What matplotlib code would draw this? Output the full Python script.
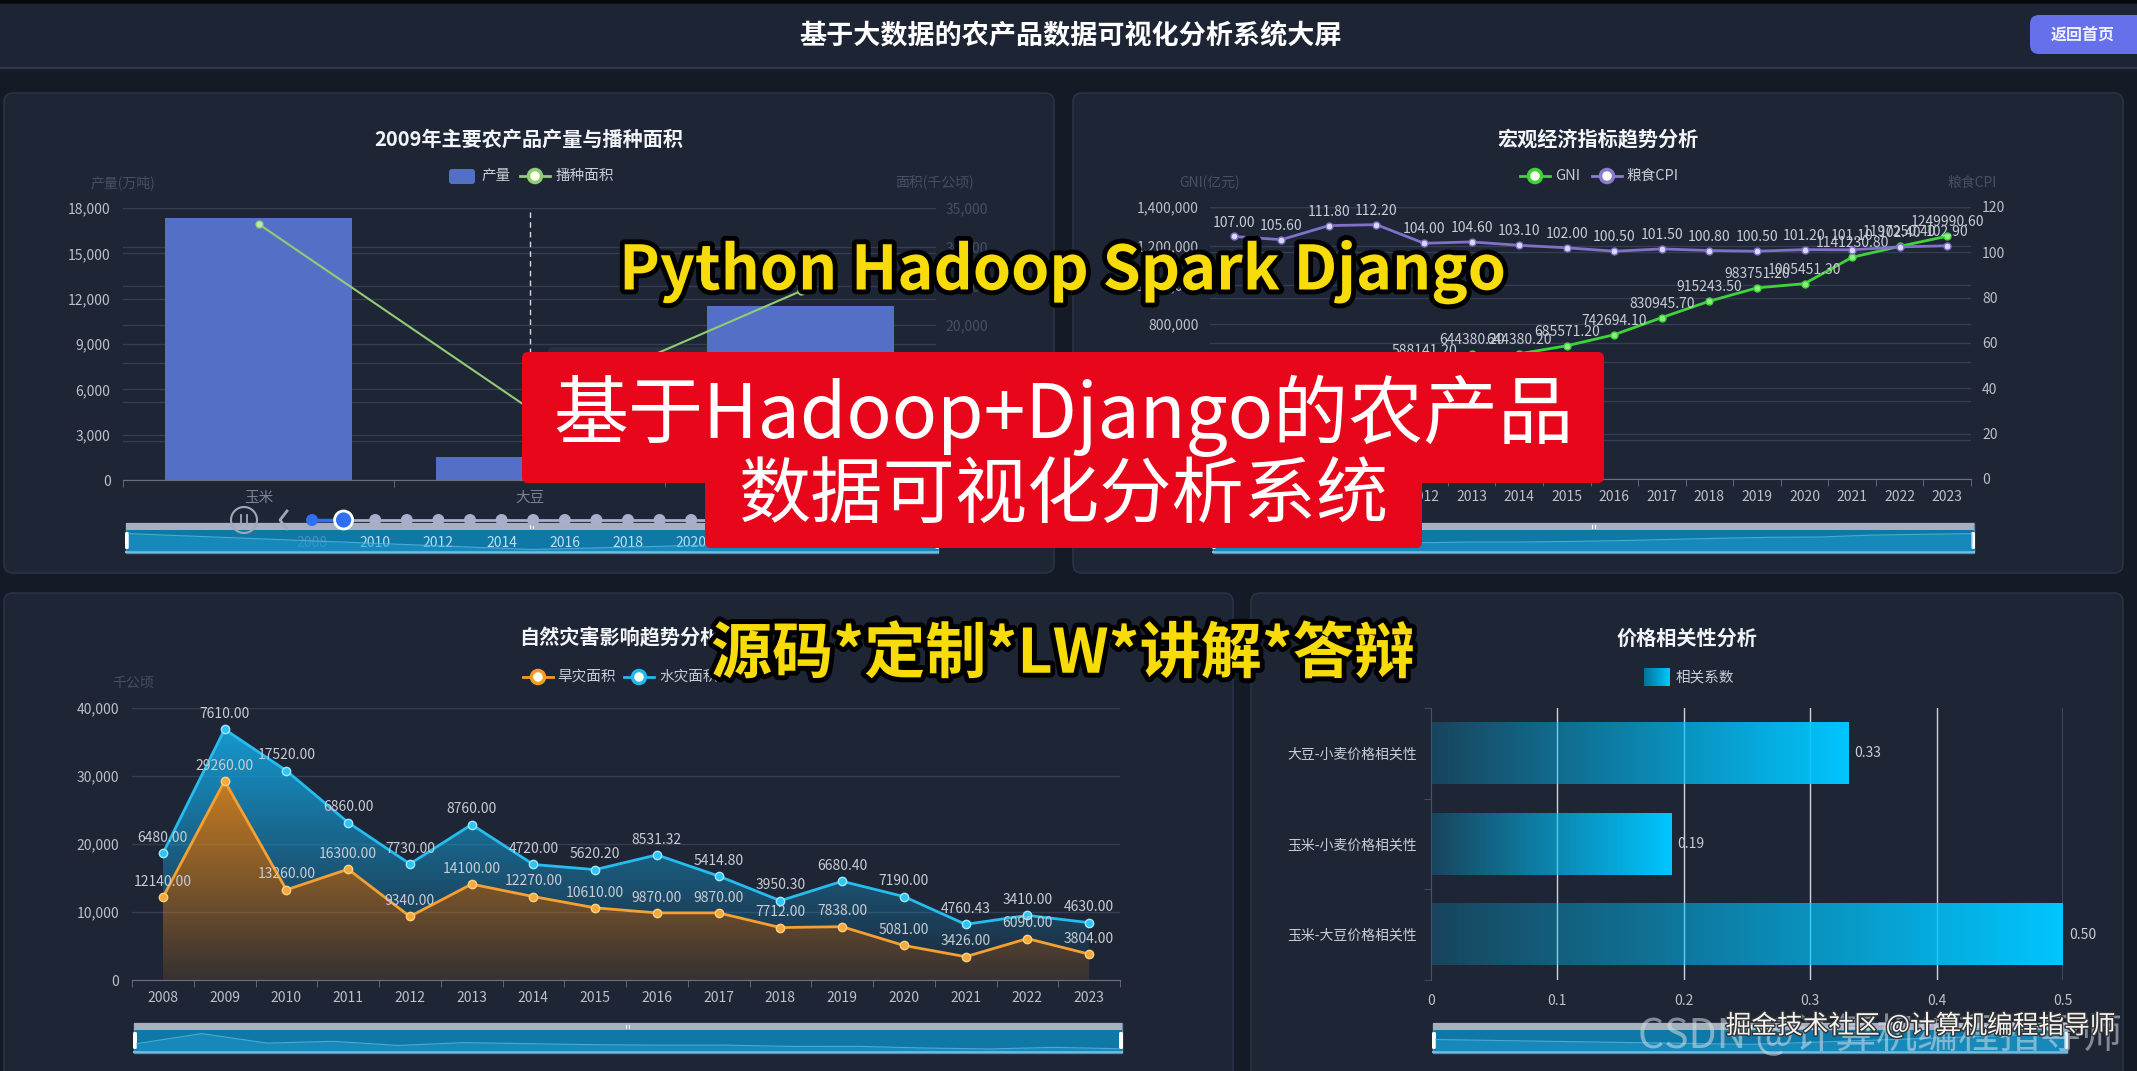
import numpy as np
import matplotlib
matplotlib.use('Agg')
import matplotlib.pyplot as plt
from matplotlib.patches import FancyBboxPatch, Rectangle, Circle, Polygon
import matplotlib.patheffects as pe
from matplotlib.ticker import FuncFormatter

plt.rcParams['font.family'] = ['Noto Sans CJK SC', 'DejaVu Sans']

W, H = 2137, 1071

# ---------------- data ----------------
crop_names = ['玉米', '大豆', '小麦']
crop_output = [17326, 1498, 11512]          # 产量(万吨)
crop_area = [32950, 9190, 24291]            # 播种面积(千公顷)
timeline_years = list(range(2008, 2024))
timeline_labels = ['2008', '2010', '2012', '2014', '2016', '2018', '2020', '2022']

macro_years = [str(y) for y in range(2008, 2024)]
gni = [347934.90, 410354.10, 483392.80, 537329.00, 588141.20, 644380.20, 644380.20,
       685571.20, 742694.10, 830945.70, 915243.50, 983751.20, 1005451.30,
       1141230.80, 1197250.40, 1249990.60]
grain_cpi = [107.00, 105.60, 111.80, 112.20, 104.00, 104.60, 103.10, 102.00, 100.50,
             101.50, 100.80, 100.50, 101.20, 101.10, 102.40, 102.90]

disaster_years = [str(y) for y in range(2008, 2024)]
drought_area = [12140, 29260, 13260, 16300, 9340, 14100, 12270, 10610, 9870, 9870,
                7712, 7838, 5081, 3426, 6090, 3804]
flood_area = [6480, 7610, 17520, 6860, 7730, 8760, 4720, 5620.20, 8531.32, 5414.80,
              3950.30, 6680.40, 7190, 4760.43, 3410, 4630]

corr_names = ['玉米-大豆价格相关性', '玉米-小麦价格相关性', '大豆-小麦价格相关性']
corr_values = [0.50, 0.19, 0.33]

# ---------------- style ----------------
PAGE = '#141a26'
PANEL = '#1e2535'
GRID = '#343e51'
TICK = '#bcc0c9'
DIM = '#465064'
LABEL = '#c8ccd4'

fig = plt.figure(figsize=(W / 100, H / 100), dpi=100)
fig.patch.set_facecolor(PAGE)


def px_axes(x0, y0, x1, y1, **kw):
    return fig.add_axes([x0 / W, 1 - y1 / H, (x1 - x0) / W, (y1 - y0) / H], **kw)


def clean(ax):
    ax.set_facecolor('none')
    for s in ax.spines.values():
        s.set_visible(False)


bg = fig.add_axes([0, 0, 1, 1])
bg.set_xlim(0, W)
bg.set_ylim(H, 0)
bg.axis('off')

# header
bg.add_patch(Rectangle((0, 0), W, 4, color='#07090d', zorder=1))
bg.add_patch(Rectangle((0, 4), W, 64, color='#1d2434', zorder=1))
bg.plot([0, W], [68, 68], color='#323d51', lw=1.2, zorder=2)
bg.text(1071, 36, '基于大数据的农产品数据可视化分析系统大屏', ha='center', va='center',
        color='white', fontsize=19.5, fontweight='bold', zorder=3)
bg.add_patch(FancyBboxPatch((2030, 15), 130, 39, boxstyle='round,pad=0,rounding_size=9',
                            fc='#6570ea', ec='none', zorder=3))
bg.text(2083, 35, '返回首页', ha='center', va='center', color='#eef0ff', fontsize=11.5,
        fontweight='bold', zorder=4)

# panels
panels = [(4, 93, 1054, 573), (1073, 93, 2123, 573), (4, 593, 1233, 1085), (1251, 593, 2123, 1085)]
for (x0, y0, x1, y1) in panels:
    bg.add_patch(FancyBboxPatch((x0, y0), x1 - x0, y1 - y0,
                                boxstyle='round,pad=0,rounding_size=9',
                                fc=PANEL, ec='#293246', lw=1.2, zorder=2))

# titles
titles = [(529, 139, '2009年主要农产品产量与播种面积'), (1598, 139, '宏观经济指标趋势分析'),
          (620, 638, '自然灾害影响趋势分析'), (1687, 638, '价格相关性分析')]
for (x, y, s) in titles:
    bg.text(x, y, s, ha='center', va='center', color='#f2f4f8', fontsize=14.5,
            fontweight='bold', zorder=5)


def legend_line(x, y, color):
    bg.plot([x - 15, x + 15], [y, y], color=color, lw=2, zorder=5)
    bg.add_patch(Circle((x, y), 6.5, fc='#fbfff0', ec=color, lw=2.5, zorder=6))


# legends
bg.add_patch(FancyBboxPatch((449, 169), 26, 15, boxstyle='round,pad=0,rounding_size=3',
                            fc='#5470c6', ec='none', zorder=5))
bg.text(481, 176, '产量', ha='left', va='center', color=LABEL, fontsize=10.5, zorder=5)
legend_line(535, 176, '#91cc75')
bg.text(556, 176, '播种面积', ha='left', va='center', color=LABEL, fontsize=10.5, zorder=5)

legend_line(1535, 176, '#3fd33a')
bg.text(1555, 176, 'GNI', ha='left', va='center', color=LABEL, fontsize=10.5, zorder=5)
legend_line(1607, 176, '#8a7bd0')
bg.text(1626, 176, '粮食CPI', ha='left', va='center', color=LABEL, fontsize=10.5, zorder=5)

legend_line(538, 677, '#f59a23')
bg.text(557, 677, '旱灾面积', ha='left', va='center', color=LABEL, fontsize=10.5, zorder=5)
legend_line(639, 677, '#22b8ec')
bg.text(659, 677, '水灾面积', ha='left', va='center', color=LABEL, fontsize=10.5, zorder=5)

# legend gradient box for correlation
lg = np.zeros((1, 64, 4))
lg[0, :, 0] = 0.0
lg[0, :, 1] = np.linspace(0.45, 0.78, 64)
lg[0, :, 2] = np.linspace(0.6, 1.0, 64)
lg[0, :, 3] = 1
bg.imshow(lg, extent=[1644, 1670, 686, 668], aspect='auto', zorder=5, interpolation='bilinear')
bg.text(1676, 677, '相关系数', ha='left', va='center', color=LABEL, fontsize=10.5, zorder=5)

# axis names
for (x, y, s) in [(123, 183, '产量(万吨)'), (934, 183, '面积(千公顷)'), (1210, 183, 'GNI(亿元)'),
                  (1972, 183, '粮食CPI'), (133, 683, '千公顷')]:
    bg.text(x, y, s, ha='center', va='center', color=DIM, fontsize=10, zorder=5)


# sliders (dataZoom)
def slider(x0, x1, y0, left=True, right=True):
    bg.add_patch(Rectangle((x0, y0), x1 - x0, 30, fc='#0f78a6', ec='#5a88a8', lw=1, zorder=4))
    bg.add_patch(Rectangle((x0, y0), x1 - x0, 7, fc='#a7afc0', ec='none', zorder=5))
    bg.plot([x0, x1], [y0 + 29, y0 + 29], color='#6fc0e4', lw=1.5, zorder=5)
    xm = (x0 + x1) / 2
    bg.plot([xm - 2, xm - 2], [y0 + 2, y0 + 5], color='white', lw=0.8, zorder=6)
    bg.plot([xm + 1, xm + 1], [y0 + 2, y0 + 5], color='white', lw=0.8, zorder=6)
    if left:
        bg.add_patch(FancyBboxPatch((x0 - 1, y0 + 9), 4, 17, boxstyle='round,pad=0,rounding_size=1.5',
                                    fc='white', ec='none', zorder=6))
    if right:
        bg.add_patch(FancyBboxPatch((x1 - 3, y0 + 9), 4, 17, boxstyle='round,pad=0,rounding_size=1.5',
                                    fc='white', ec='none', zorder=6))


slider(126, 938, 523)
slider(1213, 1974, 523)
slider(134, 1122, 1023)
slider(1433, 2067, 1023)

# timeline
tl_x0, tl_dx, tl_y = 312, 31.6, 520
tl_xs = [tl_x0 + tl_dx * i for i in range(len(timeline_years))]
bg.plot([tl_xs[0], tl_xs[-1]], [tl_y, tl_y], color='#a8afca', lw=2, zorder=7)
bg.plot([tl_xs[0], tl_xs[1]], [tl_y, tl_y], color='#2f6ff0', lw=2.5, zorder=8)
for i, xx in enumerate(tl_xs):
    if i == 0:
        bg.add_patch(Circle((xx, tl_y), 6, fc='#2f6ff0', ec='none', zorder=9))
    elif i == 1:
        bg.add_patch(Circle((xx, tl_y), 9, fc='#2f6ff0', ec='white', lw=2, zorder=9))
    else:
        bg.add_patch(Circle((xx, tl_y), 6, fc='#a8afca', ec='none', zorder=9))
for lab in timeline_labels:
    i = timeline_years.index(int(lab))
    bg.text(tl_xs[i], 543, lab, ha='center', va='center', fontsize=10,
            color='#4d90b8' if i == 0 else '#b8e2f5', zorder=9)
bg.add_patch(Circle((244, 520), 13, fc='none', ec='#a0a7ba', lw=1.5, zorder=9))
bg.plot([241, 241], [515, 525], color='#a0a7ba', lw=1.3, zorder=9)
bg.plot([247, 247], [515, 525], color='#a0a7ba', lw=1.3, zorder=9)
bg.plot([287, 280, 287], [511, 520, 529], color='#a0a7ba', lw=2, zorder=9)

# tooltip remnant (mostly hidden)
bg.add_patch(FancyBboxPatch((548, 347), 180, 130, boxstyle='round,pad=0,rounding_size=5',
                            fc='#2a3040', ec='none', zorder=3))

# ================= chart 1: production & area =================
ax1 = px_axes(123, 208, 936, 480)
clean(ax1)
xc = np.arange(len(crop_names))
ax1.set_xlim(-0.5, len(crop_names) - 0.5)
ax1.set_ylim(0, 18000)
for v in np.arange(0, 18001, 3000):
    ax1.axhline(v, color=GRID, lw=1, zorder=0)
for v in np.arange(0, 35001, 5000):
    ax1.axhline(v * 18000 / 35000, color=GRID, lw=1, zorder=0)
ax1.bar(xc, crop_output, width=0.69, color='#5470c6', zorder=3)
ax1.axvline(1, color='#d5d9e0', lw=1, ls=(0, (4, 3)), zorder=5)
ax1.set_yticks(np.arange(0, 18001, 3000))
ax1.yaxis.set_major_formatter(FuncFormatter(lambda v, p: f'{int(v):,}'))
ax1.tick_params(axis='y', length=0, colors=TICK, labelsize=10, pad=9)
ax1.set_xticks(xc)
ax1.set_xticklabels(crop_names)
ax1.tick_params(axis='x', which='major', length=0, colors='#7a8294', labelsize=10.5, pad=8)
ax1.set_xticks(np.arange(-0.5, len(crop_names)), minor=True)
ax1.tick_params(axis='x', which='minor', length=5, color='#6e7079')
ax1.spines['bottom'].set_visible(True)
ax1.spines['bottom'].set_color('#6e7079')
ax1r = ax1.twinx()
clean(ax1r)
ax1r.set_ylim(0, 35000)
ax1r.plot(xc, crop_area, color='#91cc75', lw=1.5, marker='o', ms=5, mfc='#c5e8b0',
          mec='#91cc75', zorder=4)
ax1r.set_yticks(np.arange(0, 35001, 5000))
ax1r.yaxis.set_major_formatter(FuncFormatter(lambda v, p: f'{int(v):,}'))
ax1r.tick_params(axis='y', length=0, colors=DIM, labelsize=10, pad=7)

# ================= chart 2: GNI & CPI =================
ax2 = px_axes(1210, 207, 1971, 479)
clean(ax2)
xm = np.arange(len(macro_years))
ax2.set_xlim(-0.5, len(macro_years) - 0.5)
ax2.set_ylim(0, 1400000)
for v in np.arange(0, 1400001, 200000):
    ax2.axhline(v, color=GRID, lw=1, zorder=0)
for v in np.arange(0, 121, 20):
    ax2.axhline(v * 1400000 / 120, color=GRID, lw=1, zorder=0)
ax2.plot(xm, gni, color='#3fd33a', lw=2, marker='o', ms=5, mfc='#8af07c', mec='#3fd33a', zorder=4)
for i, v in enumerate(gni):
    ax2.annotate(f'{v:.2f}', (i, v), xytext=(0, 5), textcoords='offset points', ha='center',
                 va='bottom', fontsize=10, color=LABEL, zorder=6)
ax2.set_yticks(np.arange(0, 1400001, 200000))
ax2.yaxis.set_major_formatter(FuncFormatter(lambda v, p: f'{int(v):,}'))
ax2.tick_params(axis='y', length=0, colors=TICK, labelsize=10, pad=8)
ax2.set_xticks(xm)
ax2.set_xticklabels(macro_years)
ax2.tick_params(axis='x', which='major', length=0, colors=TICK, labelsize=10, pad=8)
ax2.set_xticks(np.arange(-0.5, len(macro_years)), minor=True)
ax2.tick_params(axis='x', which='minor', length=5, color='#6e7079')
ax2.spines['bottom'].set_visible(True)
ax2.spines['bottom'].set_color('#6e7079')
ax2r = ax2.twinx()
clean(ax2r)
ax2r.set_ylim(0, 120)
ax2r.plot(xm, grain_cpi, color='#8070c8', lw=2, marker='o', ms=5, mfc='#ddd6ff', mec='#8070c8',
          zorder=4)
for i, v in enumerate(grain_cpi):
    ax2r.annotate(f'{v:.2f}', (i, v), xytext=(0, 5), textcoords='offset points', ha='center',
                  va='bottom', fontsize=10, color=LABEL, zorder=6)
ax2r.set_yticks(np.arange(0, 121, 20))
ax2r.tick_params(axis='y', length=0, colors=TICK, labelsize=10, pad=8)


# ================= chart 3: disasters =================
def grad_fill(ax, x, y_low, y_high, rgb, a_top, a_bot, z):
    verts = list(zip(x, y_high)) + list(zip(x[::-1], y_low[::-1]))
    poly = Polygon(verts, closed=True, fc='none', ec='none', transform=ax.transData)
    ax.add_patch(poly)
    ymin, ymax = float(np.min(y_low)), float(np.max(y_high))
    n = 256
    img = np.zeros((n, 1, 4))
    img[:, 0, :3] = rgb
    img[:, 0, 3] = np.linspace(a_bot, a_top, n)
    im = ax.imshow(img, extent=[x[0], x[-1], ymin, ymax], origin='lower', aspect='auto',
                   zorder=z, interpolation='bilinear')
    im.set_clip_path(poly)


ax3 = px_axes(132, 708, 1120, 980)
clean(ax3)
xd = np.arange(len(disaster_years), dtype=float)
d = np.array(drought_area, dtype=float)
f = np.array(flood_area, dtype=float)
top = d + f
for v in np.arange(0, 40001, 10000):
    ax3.axhline(v, color=GRID, lw=1, zorder=0)
grad_fill(ax3, xd, np.zeros_like(d), d, (0.90, 0.55, 0.12), 0.85, 0.12, 1)
grad_fill(ax3, xd, d, top, (0.08, 0.66, 0.90), 0.88, 0.08, 1)
ax3.plot(xd, d, color='#f5a030', lw=2, marker='o', ms=6, mfc='#f7a83a', mec='#ffd080', zorder=4)
ax3.plot(xd, top, color='#25bcf0', lw=2, marker='o', ms=6, mfc='#30c4f4', mec='#a0e8ff', zorder=4)
for i in range(len(xd)):
    ax3.annotate(f'{d[i]:.2f}', (xd[i], d[i]), xytext=(0, 6), textcoords='offset points',
                 ha='center', va='bottom', fontsize=10, color=LABEL, zorder=6)
    ax3.annotate(f'{f[i]:.2f}', (xd[i], top[i]), xytext=(0, 6), textcoords='offset points',
                 ha='center', va='bottom', fontsize=10, color=LABEL, zorder=6)
ax3.set_xlim(-0.5, len(xd) - 0.5)
ax3.set_ylim(0, 40000)
ax3.set_yticks(np.arange(0, 40001, 10000))
ax3.yaxis.set_major_formatter(FuncFormatter(lambda v, p: f'{int(v):,}'))
ax3.tick_params(axis='y', length=0, colors=TICK, labelsize=10, pad=9)
ax3.set_xticks(xd)
ax3.set_xticklabels(disaster_years)
ax3.tick_params(axis='x', which='major', length=0, colors=TICK, labelsize=10, pad=8)
ax3.set_xticks(np.arange(-0.5, len(xd)), minor=True)
ax3.tick_params(axis='x', which='minor', length=5, color='#6e7079')
ax3.spines['bottom'].set_visible(True)
ax3.spines['bottom'].set_color('#6e7079')

# ================= chart 4: correlation =================
ax4 = px_axes(1431, 708, 2063, 980)
clean(ax4)
ax4.set_xlim(0, 0.5)
ax4.set_ylim(-0.5, len(corr_names) - 0.5)
for v in np.arange(0.1, 0.51, 0.1):
    ax4.axvline(v, color='#cfd3db', lw=1, zorder=0)
for i, v in enumerate(corr_values):
    g = np.zeros((1, 128, 4))
    g[0, :, 0] = 0.0
    g[0, :, 1] = 0.78
    g[0, :, 2] = 1.0
    g[0, :, 3] = np.linspace(0.2, 1.0, 128)
    ax4.imshow(g, extent=[0, v, i - 0.34, i + 0.34], aspect='auto', zorder=2,
               interpolation='bilinear')
    ax4.text(v + 0.005, i, f'{v:.2f}', ha='left', va='center', fontsize=10, color=LABEL, zorder=5)
ax4.set_xlim(0, 0.5)
ax4.set_ylim(-0.5, len(corr_names) - 0.5)
ax4.set_xticks(np.arange(0, 0.51, 0.1))
ax4.xaxis.set_major_formatter(FuncFormatter(lambda v, p: '0' if abs(v) < 1e-9 else f'{v:.1f}'))
ax4.tick_params(axis='x', length=0, colors=TICK, labelsize=10, pad=10)
ax4.set_yticks(np.arange(len(corr_names)))
ax4.set_yticklabels(corr_names)
ax4.tick_params(axis='y', which='major', length=0, colors=LABEL, labelsize=10, pad=10)
ax4.set_yticks(np.arange(-0.5, len(corr_names)), minor=True)
ax4.tick_params(axis='y', which='minor', length=5, color='#4a5264')
ax4.spines['left'].set_visible(True)
ax4.spines['left'].set_color('#4a5264')


# ================= data shadows in sliders =================
def shadow(x0, x1, y0, values):
    a = px_axes(x0, y0 + 8, x1, y0 + 28)
    a.axis('off')
    a.set_facecolor('none')
    xs = np.arange(len(values))
    a.fill_between(xs, 0, values, color='#1c98cc', alpha=0.55, lw=0)
    a.plot(xs, values, color='#58b8e0', lw=0.8, alpha=0.8)
    a.set_xlim(0, len(values) - 1)
    a.set_ylim(0, max(values) * 1.15)


shadow(128, 936, 523, crop_output)
shadow(1215, 1972, 523, gni)
shadow(136, 1120, 1023, drought_area)
shadow(1435, 2065, 1023, corr_values[::-1])

# ================= overlays =================
ov = fig.add_axes([0, 0, 1, 1])
ov.set_xlim(0, W)
ov.set_ylim(H, 0)
ov.axis('off')
ov.set_facecolor('none')

outline = [pe.withStroke(linewidth=7, foreground='black')]
ov.text(1063, 272, 'Python Hadoop Spark Django', ha='center', va='center', color='#f8dc0a',
        fontsize=44, fontweight='bold', path_effects=outline, zorder=10)

ov.add_patch(FancyBboxPatch((522, 352), 1082, 131, boxstyle='round,pad=0,rounding_size=6',
                            fc='#e8061a', ec='none', zorder=10))
ov.add_patch(FancyBboxPatch((705, 450), 717, 98, boxstyle='round,pad=0,rounding_size=6',
                            fc='#e8061a', ec='none', zorder=10))
ov.text(1063, 416, '基于Hadoop+Django的农产品', ha='center', va='center', color='white',
        fontsize=54, zorder=11)
ov.text(1063, 496, '数据可视化分析系统', ha='center', va='center', color='white',
        fontsize=52, zorder=11)

ov.text(1063, 655, '源码*定制*LW*讲解*答辩', ha='center', va='center', color='#f8dc0a',
        fontsize=44, fontweight='bold', path_effects=outline, zorder=10)

ov.text(1880, 1036, 'CSDN @计算机编程指导师', ha='center', va='center', color='#d8dde6',
        alpha=0.55, fontsize=29.5, zorder=10)
ov.text(1921, 1026, '掘金技术社区 @计算机编程指导师', ha='center', va='center', color='#f4f4f4',
        fontsize=18.5, zorder=11,
        path_effects=[pe.withStroke(linewidth=2, foreground='#333333')])

fig.savefig('out.png', dpi=100, facecolor=fig.get_facecolor())
